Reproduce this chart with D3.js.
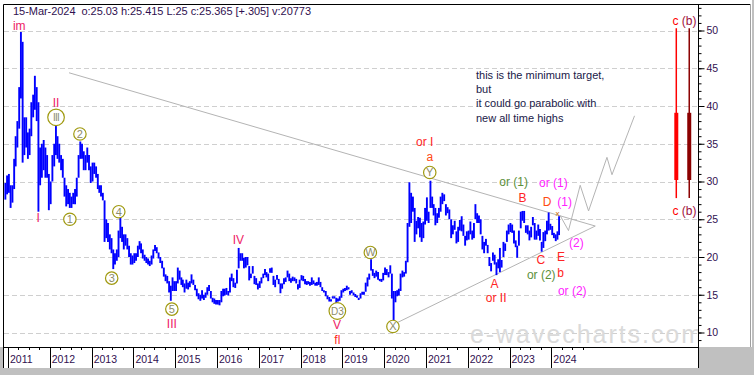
<!DOCTYPE html>
<html>
<head>
<meta charset="utf-8">
<script src="https://cdn.jsdelivr.net/npm/d3@7"></script>
<style>
  body { margin: 0; background: #c0c0c0; }
  svg { display: block; font-family: 'Liberation Sans', Arial, sans-serif; }
</style>
</head>
<body>
<div id="chart"></div>
<script>
// half-month [low, high] ranges
const s2010 = [[27.6, 29.8], [28.3, 30.8]]; // second half of Dec starts at k=22
const s2011 = [[28.5, 31.0], [26.5, 29.5], [27.2, 29.5], [29.0, 33.0], [32.0, 36.0], [34.5, 38.0], [37.0, 42.5], [41.0, 49.8], [32.5, 48.5], [33.5, 38.5], [34.5, 38.5], [33.0, 36.5], [33.5, 37.0], [36.0, 40.5], [38.5, 41.5], [39.5, 44.0], [38.0, 42.5], [26.0, 40.5], [29.5, 34.5], [30.5, 35.0], [31.5, 35.5], [30.5, 34.5], [30.5, 33.5], [26.2, 31.0]];
const s2012 = [[27.0, 30.0], [30.0, 33.5], [32.0, 35.0], [33.5, 37.5], [33.0, 36.0], [32.5, 35.0], [31.5, 33.5], [30.5, 33.0], [28.0, 30.5], [26.7, 29.5], [27.0, 29.0], [26.5, 28.5], [26.5, 28.0], [27.0, 28.5], [27.0, 29.0], [28.0, 30.5], [30.5, 33.5], [33.0, 35.3], [33.0, 35.0], [31.5, 34.0], [31.5, 33.5], [32.5, 34.5], [31.5, 33.5], [29.8, 32.0]];
const s2013 = [[30.0, 32.5], [31.0, 32.5], [30.5, 32.0], [29.0, 31.0], [28.5, 29.5], [28.0, 29.5], [27.5, 28.5], [22.0, 27.5], [22.5, 25.0], [22.0, 24.5], [21.0, 23.0], [20.5, 22.5], [18.4, 21.0], [19.0, 20.5], [19.5, 21.0], [20.0, 23.5], [22.5, 25.2], [22.0, 24.0], [21.0, 23.0], [21.5, 23.0], [21.0, 22.5], [20.0, 21.5], [19.0, 20.5], [19.0, 20.2]];
const s2014 = [[19.2, 20.5], [19.5, 20.5], [20.0, 21.5], [21.0, 22.1], [20.5, 21.8], [19.8, 21.0], [19.5, 20.3], [19.2, 20.0], [19.0, 19.8], [18.8, 19.5], [19.0, 20.2], [19.8, 21.0], [20.8, 21.6], [20.5, 21.3], [19.8, 20.6], [19.2, 20.0], [18.5, 19.5], [17.4, 18.6], [16.8, 17.7], [16.5, 17.5], [15.3, 16.8], [14.2, 16.2], [15.5, 17.3], [15.5, 16.8]];
const s2015 = [[15.5, 16.8], [16.5, 18.6], [17.0, 18.2], [16.3, 17.3], [16.0, 17.0], [15.3, 16.5], [15.8, 17.0], [15.7, 16.6], [16.0, 16.8], [16.5, 17.7], [16.3, 17.0], [15.6, 16.3], [14.8, 15.8], [14.4, 15.2], [14.2, 15.0], [14.5, 15.6], [14.3, 15.0], [14.6, 15.3], [15.0, 16.0], [15.5, 16.3], [14.5, 15.5], [14.0, 14.6], [13.8, 14.5], [13.7, 14.3]];
const s2016 = [[13.7, 14.3], [13.6, 14.3], [14.0, 15.5], [14.8, 15.8], [14.9, 15.8], [15.0, 15.9], [14.9, 15.5], [15.3, 17.3], [16.8, 17.8], [16.0, 17.2], [15.9, 16.6], [16.5, 18.3], [18.5, 21.2], [19.5, 20.5], [19.5, 20.5], [18.5, 19.9], [18.6, 20.0], [18.9, 20.0], [16.9, 18.8], [17.2, 17.8], [17.8, 18.8], [16.4, 17.5], [16.3, 17.2], [15.7, 16.5]];
const s2017 = [[15.9, 16.8], [16.5, 17.3], [17.2, 17.8], [17.6, 18.4], [17.3, 18.0], [16.8, 17.8], [17.9, 18.5], [17.9, 18.6], [16.3, 17.5], [16.0, 17.0], [17.0, 17.6], [16.4, 17.1], [15.2, 16.5], [15.8, 16.5], [16.4, 17.2], [16.7, 17.3], [17.3, 18.2], [16.8, 17.8], [16.6, 17.2], [16.8, 17.4], [16.8, 17.3], [16.5, 17.1], [15.7, 16.4], [15.9, 17.0]];
const s2018 = [[16.9, 17.6], [16.8, 17.5], [16.4, 17.1], [16.3, 16.8], [16.4, 16.8], [16.2, 16.7], [16.3, 17.3], [16.4, 16.9], [16.2, 16.6], [16.2, 16.7], [16.3, 17.3], [16.0, 16.7], [15.5, 16.0], [15.3, 15.6], [14.8, 15.5], [14.4, 14.9], [14.1, 14.7], [14.1, 14.4], [14.5, 14.8], [14.5, 14.8], [13.9, 14.6], [14.1, 14.5], [14.2, 14.8], [14.6, 15.6]];
const s2019 = [[15.3, 15.8], [15.5, 15.9], [15.6, 16.2], [15.7, 16.0], [15.0, 15.5], [15.2, 15.6], [14.9, 15.3], [14.7, 15.1], [14.6, 14.9], [14.3, 14.6], [14.5, 15.2], [15.0, 15.4], [15.0, 15.4], [15.4, 16.6], [16.1, 17.3], [17.0, 17.8], [18.2, 19.7], [17.5, 18.4], [17.2, 17.9], [17.4, 18.2], [17.0, 18.0], [16.8, 17.1], [16.7, 17.1], [16.9, 17.9]];
const s2020 = [[17.6, 18.6], [17.6, 18.4], [17.3, 18.0], [17.8, 18.9], [14.5, 17.8], [11.6, 15.5], [14.0, 15.5], [14.8, 15.6], [14.9, 15.8], [15.5, 17.8], [17.3, 18.2], [17.4, 18.0], [17.8, 19.5], [19.3, 24.5], [24.0, 29.9], [24.5, 28.5], [26.0, 28.0], [22.0, 26.5], [23.0, 24.8], [23.8, 25.3], [22.6, 25.2], [22.0, 24.5], [22.5, 24.7], [24.3, 26.5]];
const s2021 = [[24.8, 27.9], [24.5, 26.0], [26.5, 30.1], [26.5, 28.0], [25.5, 27.0], [24.2, 26.5], [24.5, 25.8], [25.2, 26.5], [26.0, 28.0], [27.0, 28.5], [27.4, 28.3], [25.5, 27.0], [25.8, 26.6], [25.0, 26.3], [22.5, 25.0], [23.0, 24.2], [23.6, 24.8], [21.8, 23.4], [22.0, 24.0], [23.5, 24.9], [23.4, 25.4], [22.8, 24.3], [21.5, 22.8], [22.2, 23.4]];
const s2022 = [[22.3, 23.5], [23.0, 24.7], [22.3, 23.5], [22.5, 24.5], [25.0, 27.0], [24.5, 25.8], [24.5, 25.5], [23.0, 25.0], [21.0, 22.8], [20.5, 22.0], [21.5, 22.4], [20.5, 21.6], [18.8, 20.0], [18.1, 19.2], [19.5, 20.6], [19.0, 20.3], [17.6, 19.3], [18.5, 19.7], [18.0, 21.2], [18.6, 19.6], [20.0, 22.0], [20.8, 21.8], [22.0, 23.5], [23.0, 24.3]];
const s2023 = [[23.3, 24.5], [23.2, 24.3], [21.8, 23.5], [21.3, 22.2], [19.9, 21.5], [21.5, 23.5], [23.8, 26.0], [24.8, 26.1], [24.5, 26.1], [23.2, 24.2], [23.0, 24.2], [22.2, 23.5], [22.6, 24.0], [24.2, 25.3], [22.3, 24.5], [22.3, 23.5], [22.8, 24.3], [22.2, 23.7], [20.7, 22.0], [21.2, 23.3], [22.1, 23.5], [23.0, 24.8], [23.5, 25.9], [23.6, 24.4]];
const s2024 = [[22.9, 24.1], [22.5, 23.2], [22.1, 23.0], [22.3, 23.4], [22.9, 25.4]];

const years = [2011, 2012, 2013, 2014, 2015, 2016, 2017, 2018, 2019, 2020, 2021, 2022, 2023, 2024];
const priceTicks = [10, 15, 20, 25, 30, 35, 40, 45, 50];
const header = '15-Mar-2024  o:25.03 h:25.415 L:25 c:25.365 [+.305] v:20773';
const note = ['this is the minimum target,', 'but', 'it could go parabolic with', 'new all time highs'];

// trend lines and projected path, as [decimal year, price]
const upperLine = [[2012.46, 44.4], [2025.05, 24.1]];
const lowerLine = [[2020.2, 11.0], [2025.05, 24.1]];
const projection = [[2024.21, 25.5], [2024.41, 23.5], [2024.69, 29.5], [2024.89, 26.1], [2025.33, 33.2], [2025.45, 30.9], [2025.99, 38.7]];

// target range bars at the right: [decimal year, low, bodyLow, bodyHigh, high]
const targetBars = [[2026.99, 27.8, 30.2, 39.1, 50.3], [2027.3, 27.8, 30.2, 39.1, 50.3]];
const targetLabelLevels = [51.3, 26.1];

// wave labels [text, decimal year, price, colour group]
const waveLabels = [
  ['im', 2011.27, 50.7, 'roman'], ['II', 2012.15, 40.5, 'roman'], ['I', 2011.72, 25.2, 'roman'],
  ['III', 2014.92, 11.2, 'roman'], ['IV', 2016.51, 22.25, 'roman'], ['V', 2018.87, 11.0, 'roman'],
  ['fl', 2018.88, 9.1, 'red'], ['or I', 2020.97, 35.25, 'red'], ['a', 2021.09, 33.3, 'orange'],
  ['or (1)', 2023.1, 29.95, 'green'], ['or (1)', 2024.05, 29.9, 'magenta'], ['B', 2023.31, 27.9, 'red'],
  ['D', 2023.9, 27.3, 'orange'], ['(1)', 2024.32, 27.3, 'magenta'], ['(2)', 2024.6, 21.9, 'magenta'],
  ['C', 2023.75, 19.7, 'red'], ['E', 2024.23, 20.1, 'red'], ['or (2)', 2023.76, 17.6, 'green'],
  ['b', 2024.22, 17.9, 'red'], ['A', 2022.64, 16.5, 'red'], ['or II', 2022.68, 14.65, 'red'],
  ['or (2)', 2024.5, 15.6, 'magenta']
];
const circledLabels = [
  ['III', 2012.15, 38.5], ['1', 2012.48, 25.0], ['2', 2012.72, 36.3], ['3', 2013.48, 17.2],
  ['4', 2013.65, 26.0], ['5', 2014.92, 13.1], ['D3', 2018.88, 12.85], ['W', 2019.67, 20.6],
  ['X', 2020.21, 10.8], ['Y', 2021.09, 31.2]
];

const colors = {
  roman: '#ee2266', red: '#ff2424', orange: '#ff4a12', green: '#5b8f3a', magenta: '#ff22ff'
};

const W = 754, H = 375;
const plotL = 3, plotR = 698, plotT = 4, plotB = 347;

function decYear(t) {
  const y0 = Math.floor(t);
  const a = new Date(y0, 0, 1), b = new Date(y0 + 1, 0, 1);
  return new Date(+a + (t - y0) * (b - a));
}

function halfMonths(year, pairs, k0 = 0) {
  return pairs.map((p, i) => {
    const k = i + k0;
    return { date: new Date(year, Math.floor(k / 2), k % 2 ? 16 : 1), lo: p[0], hi: p[1] };
  });
}

const bars = [
  ...halfMonths(2010, s2010, 22),
  ...[s2011, s2012, s2013, s2014, s2015, s2016, s2017, s2018, s2019, s2020, s2021, s2022, s2023, s2024]
    .flatMap((s, i) => halfMonths(2011 + i, s))
];

const x = d3.scaleTime()
  .domain([new Date(2011, 0, 1), new Date(2024, 0, 1)])
  .range([8, 551.3]);
const y = d3.scaleLinear().domain([10, 50]).range([332.5, 30.5]);

const svg = d3.create('svg').attr('width', W).attr('height', H);

// panels
svg.append('rect').attr('x', 0).attr('y', 0).attr('width', 752).attr('height', plotB).attr('fill', '#fff');
svg.append('rect').attr('x', plotL).attr('y', plotB).attr('width', plotR - plotL).attr('height', 21).attr('fill', '#fff');
svg.append('line').attr('x1', 750.5).attr('x2', 750.5).attr('y1', plotT).attr('y2', plotB).attr('stroke', '#a0a0a0');

svg.append('clipPath').attr('id', 'plot-clip')
  .append('rect').attr('x', plotL).attr('y', plotT).attr('width', plotR - plotL).attr('height', plotB - plotT);

const plot = svg.append('g').attr('clip-path', 'url(#plot-clip)');

// dashed grid
plot.append('g')
  .selectAll('line')
  .data(priceTicks)
  .join('line')
  .attr('x1', plotL + 1)
  .attr('x2', plotR)
  .attr('y1', (d) => Math.round(y(d)) + 0.5)
  .attr('y2', (d) => Math.round(y(d)) + 0.5)
  .attr('stroke', '#cfcfcf')
  .attr('stroke-dasharray', '5,3');

// watermark
plot.append('text')
  .attr('x', 470)
  .attr('y', 343)
  .attr('font-size', 25)
  .attr('textLength', 232)
  .attr('fill', '#dadada')
  .text('e-wavecharts.com');

const pt = (d) => [x(decYear(d[0])), y(d[1])];
const line = d3.line().x((d) => pt(d)[0]).y((d) => pt(d)[1]);

plot.append('g')
  .attr('fill', 'none')
  .attr('stroke', '#b4b4b4')
  .selectAll('path')
  .data([upperLine, lowerLine, projection])
  .join('path')
  .attr('d', line);

// price bars
plot.append('g')
  .attr('stroke', '#0000ff')
  .attr('stroke-width', 1.9)
  .selectAll('line')
  .data(bars)
  .join('line')
  .attr('x1', (d) => x(d.date) + 0.9)
  .attr('x2', (d) => x(d.date) + 0.9)
  .attr('y1', (d) => y(d.hi))
  .attr('y2', (d) => y(d.lo));

// target bars
const tb = plot.append('g')
  .selectAll('g')
  .data(targetBars)
  .join('g')
  .attr('stroke', (d, i) => (i ? '#8b0000' : '#ff0000'));
tb.append('line')
  .attr('x1', (d) => x(decYear(d[0])))
  .attr('x2', (d) => x(decYear(d[0])))
  .attr('y1', (d) => y(d[4]))
  .attr('y2', (d) => y(d[1]))
  .attr('stroke-width', 1.5);
tb.append('line')
  .attr('x1', (d) => x(decYear(d[0])))
  .attr('x2', (d) => x(decYear(d[0])))
  .attr('y1', (d) => y(d[3]))
  .attr('y2', (d) => y(d[2]))
  .attr('stroke-width', 4);
targetLabelLevels.forEach((v) => {
  const g = plot.append('text')
    .attr('x', x(decYear(2026.9)))
    .attr('y', y(v))
    .attr('font-size', 12)
    .attr('dy', '0.35em');
  g.append('tspan').attr('fill', '#ff0000').text('c');
  g.append('tspan').attr('fill', '#a01040').text(' (b)');
});

// wave labels
plot.append('g')
  .attr('font-size', 12)
  .attr('text-anchor', 'middle')
  .selectAll('text')
  .data(waveLabels)
  .join('text')
  .attr('x', (d) => x(decYear(d[1])))
  .attr('y', (d) => y(d[2]))
  .attr('dy', '0.36em')
  .attr('fill', (d) => colors[d[3]])
  .text((d) => d[0]);

plot.append('text')
  .attr('x', x(decYear(2024.15)))
  .attr('y', y(25.7))
  .attr('dy', '0.3em')
  .attr('text-anchor', 'middle')
  .attr('font-size', 8)
  .attr('fill', '#cc6600')
  .text('x');

const circ = plot.append('g')
  .selectAll('g')
  .data(circledLabels)
  .join('g')
  .attr('transform', (d) => `translate(${x(decYear(d[1]))},${y(d[2])})`);
circ.append('circle')
  .attr('r', (d) => (d[0].length > 1 ? 8.3 : 6.2))
  .attr('fill', '#fff')
  .attr('stroke', '#a09a10')
  .attr('stroke-width', 1.2);
circ.append('text')
  .attr('text-anchor', 'middle')
  .attr('dy', '0.36em')
  .attr('font-size', (d) => (d[0].length > 1 ? 10 : 11))
  .attr('letter-spacing', (d) => (d[0] === 'III' ? -0.8 : null))
  .attr('fill', '#8c8c6a')
  .text((d) => d[0]);

// note text
plot.append('g')
  .attr('font-size', 11)
  .attr('fill', '#202048')
  .selectAll('text')
  .data(note)
  .join('text')
  .attr('x', 476)
  .attr('y', (d, i) => 79 + i * 14.2)
  .text((d) => d);

// header
svg.append('text')
  .attr('x', 13)
  .attr('y', 15)
  .attr('font-size', 11)
  .attr('fill', '#301050')
  .attr('textLength', 298)
  .style('white-space', 'pre')
  .text(header);

// right axis
const minorAxis = d3.axisRight(y).tickValues(d3.range(9, 54)).tickSize(3).tickFormat('');
svg.append('g')
  .attr('transform', `translate(${plotR + 0.5},0)`)
  .call(minorAxis)
  .call((g) => g.select('.domain').remove())
  .call((g) => g.selectAll('line').attr('stroke', '#000'));
svg.append('g')
  .attr('transform', `translate(${plotR + 0.5},0)`)
  .call(d3.axisRight(y).tickValues(priceTicks).tickSize(6).tickPadding(2))
  .call((g) => g.select('.domain').remove())
  .call((g) => g.selectAll('line').attr('stroke', '#000'))
  .call((g) => g.selectAll('text').attr('font-size', 10.5).attr('fill', '#301050').attr('font-family', null));

// bottom axis
const bx = svg.append('g');
const quarters = years.flatMap((yr) => [3, 6, 9].map((m) => new Date(yr, m, 1)));
bx.selectAll('line.q')
  .data(quarters)
  .join('line')
  .attr('class', 'q')
  .attr('x1', (d) => Math.round(x(d)) + 0.5)
  .attr('x2', (d) => Math.round(x(d)) + 0.5)
  .attr('y1', plotB)
  .attr('y2', plotB + 3)
  .attr('stroke', '#000');
bx.selectAll('line.yr')
  .data(years)
  .join('line')
  .attr('class', 'yr')
  .attr('x1', (d) => Math.round(x(new Date(d, 0, 1))) + 0.5)
  .attr('x2', (d) => Math.round(x(new Date(d, 0, 1))) + 0.5)
  .attr('y1', plotB)
  .attr('y2', plotB + 21)
  .attr('stroke', '#000');
bx.selectAll('text')
  .data(years)
  .join('text')
  .attr('x', (d) => x(new Date(d, 0, 1)) + 2)
  .attr('y', plotB + 16)
  .attr('font-size', 10.5)
  .attr('fill', '#301050')
  .text((d) => d);

// frame
svg.append('path')
  .attr('d', `M${plotL + 0.5},${plotB + 21}V${plotT + 0.5}H750`)
  .attr('fill', 'none')
  .attr('stroke', '#000');
svg.append('line').attr('x1', plotL).attr('x2', plotR + 1).attr('y1', plotB + 0.5).attr('y2', plotB + 0.5).attr('stroke', '#000');
svg.append('line').attr('x1', plotR + 0.5).attr('x2', plotR + 0.5).attr('y1', plotT).attr('y2', plotB + 21).attr('stroke', '#000');

document.querySelector('#chart').appendChild(svg.node());
</script>
</body>
</html>
